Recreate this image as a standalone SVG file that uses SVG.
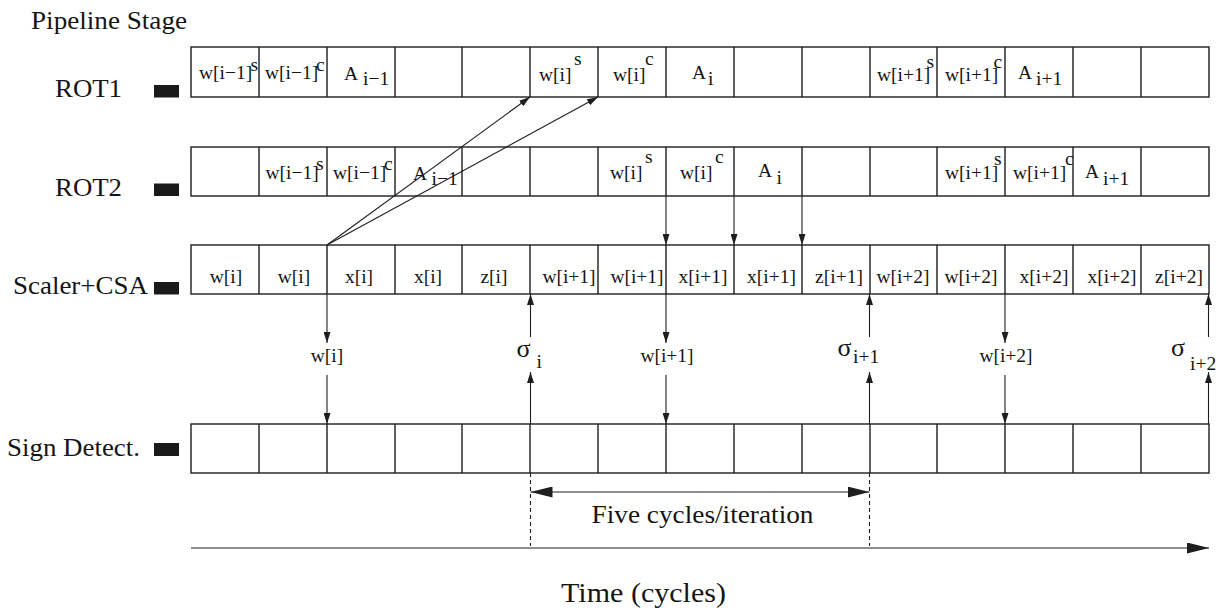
<svg xmlns="http://www.w3.org/2000/svg" width="1229" height="610" viewBox="0 0 1229 610">
<style>
text{font-family:"Liberation Serif","Times New Roman",serif;fill:#151515}
.lbl{font-size:25px}
.c{font-size:19.5px}
.sg{font-size:26px}
.row{fill:none;stroke:#1e1e1e;stroke-width:1.4}
.div{stroke:#1e1e1e;stroke-width:1.4}
.blk{fill:#1a1a1a}
.ln{stroke:#1e1e1e;stroke-width:1.1;fill:none}
.dash{stroke:#1e1e1e;stroke-width:1.1;stroke-dasharray:4,3;fill:none}
.mid{text-anchor:middle}
</style>
<defs>
<marker id="a" markerUnits="userSpaceOnUse" markerWidth="11" markerHeight="7" refX="11" refY="3.5" orient="auto">
<path d="M0,0 L11,3.5 L0,7 z" fill="#1e1e1e"/>
</marker>
<marker id="b" markerUnits="userSpaceOnUse" markerWidth="23" markerHeight="11" refX="22" refY="5.5" orient="auto-start-reverse">
<path d="M0,0 L22,5.5 L0,11 z" fill="#1e1e1e"/>
</marker>
</defs>

<text id="title" class="lbl" x="31" y="29" textLength="156" lengthAdjust="spacingAndGlyphs">Pipeline Stage</text>

<g id="rot1">
<text class="lbl" x="55" y="97" textLength="67" lengthAdjust="spacingAndGlyphs">ROT1</text>
<rect class="blk" x="154" y="85" width="25" height="12.5"/>
<rect class="row" x="191" y="47" width="1018" height="50"/>
<path class="div" d="M259,47V97M327,47V97M395,47V97M462,47V97M530,47V97M598,47V97M666,47V97M734,47V97M802,47V97M870,47V97M937,47V97M1005,47V97M1073,47V97M1141,47V97"/>
<text class="c" x="199" y="79">w[i−1]</text><text class="c" x="250.5" y="71">s</text>
<text class="c" x="265" y="79">w[i−1]</text><text class="c" x="316" y="71">c</text>
<text class="c" x="344" y="80">A</text><text class="c" x="363" y="85">i−1</text>
<text class="c" x="539" y="81">w[i]</text><text class="c" x="574" y="65">s</text>
<text class="c" x="613" y="81">w[i]</text><text class="c" x="645" y="65">c</text>
<text class="c" x="692" y="79">A</text><text class="c" x="708" y="85">i</text>
<text class="c" x="877" y="81">w[i+1]</text><text class="c" x="926.5" y="68">s</text>
<text class="c" x="945" y="81">w[i+1]</text><text class="c" x="993.5" y="68">c</text>
<text class="c" x="1018" y="78.5">A</text><text class="c" x="1036" y="85">i+1</text>
</g>

<g id="rot2">
<text class="lbl" x="55" y="196" textLength="67" lengthAdjust="spacingAndGlyphs">ROT2</text>
<rect class="blk" x="154" y="183.5" width="25" height="12.5"/>
<rect class="row" x="191" y="147" width="1018" height="49"/>
<path class="div" d="M259,147V196M327,147V196M395,147V196M462,147V196M530,147V196M598,147V196M666,147V196M734,147V196M802,147V196M870,147V196M937,147V196M1005,147V196M1073,147V196M1141,147V196"/>
<text class="c" x="265.5" y="179">w[i−1]</text><text class="c" x="316" y="170">s</text>
<text class="c" x="333" y="179">w[i−1]</text><text class="c" x="384" y="170">c</text>
<text class="c" x="413" y="180">A</text><text class="c" x="431.5" y="185">i−1</text>
<text class="c" x="610" y="179">w[i]</text><text class="c" x="645" y="163">s</text>
<text class="c" x="680" y="179">w[i]</text><text class="c" x="715" y="163">c</text>
<text class="c" x="758" y="177">A</text><text class="c" x="776.5" y="183.5">i</text>
<text class="c" x="945" y="179">w[i+1]</text><text class="c" x="994" y="165">s</text>
<text class="c" x="1013" y="179">w[i+1]</text><text class="c" x="1065" y="165">c</text>
<text class="c" x="1085" y="178">A</text><text class="c" x="1103" y="185">i+1</text>
</g>

<g id="scaler">
<text class="lbl" x="13" y="294" textLength="135" lengthAdjust="spacingAndGlyphs">Scaler+CSA</text>
<rect class="blk" x="154" y="282" width="25" height="12.5"/>
<rect class="row" x="191" y="245" width="1018" height="49"/>
<path class="div" d="M259,245V294M327,245V294M395,245V294M462,245V294M530,245V294M598,245V294M666,245V294M734,245V294M802,245V294M870,245V294M937,245V294M1005,245V294M1073,245V294M1141,245V294"/>
<text class="c mid" x="226" y="283">w[i]</text>
<text class="c mid" x="294" y="283">w[i]</text>
<text class="c mid" x="359" y="283">x[i]</text>
<text class="c mid" x="428" y="283">x[i]</text>
<text class="c mid" x="494" y="283">z[i]</text>
<text class="c mid" x="569" y="283">w[i+1]</text>
<text class="c mid" x="637" y="283">w[i+1]</text>
<text class="c mid" x="703" y="283">x[i+1]</text>
<text class="c mid" x="771.5" y="283">x[i+1]</text>
<text class="c mid" x="839" y="283">z[i+1]</text>
<text class="c mid" x="903" y="283">w[i+2]</text>
<text class="c mid" x="971" y="283">w[i+2]</text>
<text class="c mid" x="1044" y="283">x[i+2]</text>
<text class="c mid" x="1112" y="283">x[i+2]</text>
<text class="c mid" x="1179" y="283">z[i+2]</text>
</g>

<g id="sign">
<text class="lbl" x="7" y="456" textLength="133" lengthAdjust="spacingAndGlyphs">Sign Detect.</text>
<rect class="blk" x="154" y="443" width="25" height="13"/>
<rect class="row" x="191" y="424" width="1018" height="49"/>
<path class="div" d="M259,424V473M327,424V473M395,424V473M462,424V473M530,424V473M598,424V473M666,424V473M734,424V473M802,424V473M870,424V473M937,424V473M1005,424V473M1073,424V473M1141,424V473"/>
</g>

<g id="connectors">
<path class="ln" d="M327,245L530,97" marker-end="url(#a)"/>
<path class="ln" d="M327,245L598,97" marker-end="url(#a)"/>
<path class="ln" d="M666,196V245" marker-end="url(#a)"/>
<path class="ln" d="M734,196V245" marker-end="url(#a)"/>
<path class="ln" d="M802,196V245" marker-end="url(#a)"/>
<path class="ln" d="M327,294V343" marker-end="url(#a)"/>
<path class="ln" d="M666,294V343" marker-end="url(#a)"/>
<path class="ln" d="M1005,294V343" marker-end="url(#a)"/>
<path class="ln" d="M327,375V424" marker-end="url(#a)"/>
<path class="ln" d="M666,375V424" marker-end="url(#a)"/>
<path class="ln" d="M1005,375V424" marker-end="url(#a)"/>
<path class="ln" d="M530.5,424V372" marker-end="url(#a)"/>
<path class="ln" d="M869.5,424V372" marker-end="url(#a)"/>
<path class="ln" d="M1208.5,424V372" marker-end="url(#a)"/>
<path class="ln" d="M530.5,337V294" marker-end="url(#a)"/>
<path class="ln" d="M869.5,337V294" marker-end="url(#a)"/>
<path class="ln" d="M1208.5,337V294" marker-end="url(#a)"/>
<path class="dash" d="M530.5,473V546M869.5,473V546"/>
<path class="ln" d="M530.5,492H869.5" marker-start="url(#b)" marker-end="url(#b)"/>
<path class="ln" d="M191,548H1209" marker-end="url(#b)"/>
<text class="c mid" x="327" y="362">w[i]</text>
<text class="c mid" x="667" y="362">w[i+1]</text>
<text class="c mid" x="1006" y="362">w[i+2]</text>
<text class="sg" x="516.5" y="357">σ</text><text class="c" x="536.5" y="367.5">i</text>
<text class="sg" x="837.5" y="356">σ</text><text class="c" x="853" y="363">i+1</text>
<text class="sg" x="1171" y="355.5">σ</text><text class="c" x="1190" y="370">i+2</text>
</g>

<text id="cycles" class="lbl" x="591.5" y="522.5" textLength="222" lengthAdjust="spacingAndGlyphs">Five cycles/iteration</text>
<text id="time" class="lbl" x="561" y="602" style="font-size:28px" textLength="165" lengthAdjust="spacingAndGlyphs">Time (cycles)</text>
</svg>
